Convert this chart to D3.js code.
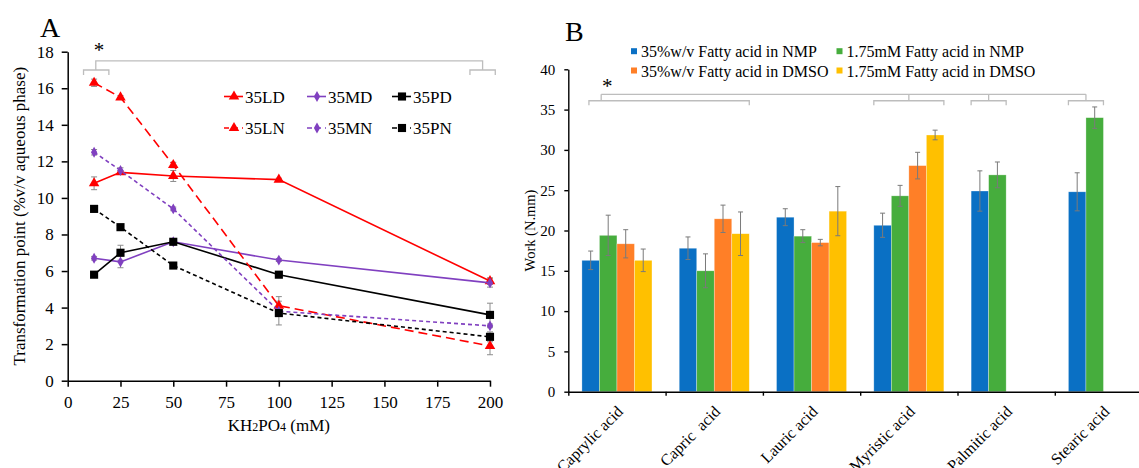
<!DOCTYPE html>
<html>
<head>
<meta charset="utf-8">
<script src="https://cdn.jsdelivr.net/npm/d3@7"></script>
<style>
  body { margin: 0; background: #fff; }
  svg text { font-family: "Liberation Serif", "Times New Roman", serif; }
</style>
</head>
<body>
<div id="chart"></div>
<script>
// ---------------- Panel A data ----------------
var concA = [12.5, 25, 50, 100, 200];
var ld = [10.8, 11.4, 11.2, 11.0, 5.45];
var ldErr = [0.35, 0.1, 0.3, 0.08, 0.18];
var ln = [16.3, 15.5, 11.8, 4.1, 1.9];
var lnErr = [0.2, 0.1, 0.15, 0.5, 0.48];
var md = [6.7, 6.5, 7.6, 6.6, 5.35];
var mdErr = [0.1, 0.32, 0.1, 0.08, 0.23];
var mn = [12.5, 11.5, 9.4, 3.8, 3.0];
var mnErr = [0.15, 0.15, 0.1, 0.1, 0.1];
var pd = [5.8, 7.0, 7.6, 5.8, 3.6];
var pdErr = [0.15, 0.41, 0.1, 0.15, 0.64];
var pn = [9.4, 8.4, 6.3, 3.7, 2.4];
var pnErr = [0.1, 0.1, 0.1, 0.65, 0.27];
var xTicksA = [0, 25, 50, 75, 100, 125, 150, 175, 200];
var yTicksA = [0, 2, 4, 6, 8, 10, 12, 14, 16, 18];

// ---------------- Panel B data ----------------
var acids = ["Caprylic acid", "Capric  acid", "Lauric acid", "Myristic acid", "Palmitic acid", "Stearic acid"];
var seriesB = ["35%w/v Fatty acid in NMP", "1.75mM Fatty acid in NMP", "35%w/v Fatty acid in DMSO", "1.75mM Fatty acid in DMSO"];
var nmp35 = [16.3, 17.8, 21.65, 20.65, 24.9, 24.8];
var nmp35Err = [1.15, 1.4, 1.05, 1.5, 2.5, 2.36];
var nmp175 = [19.4, 15.0, 19.3, 24.3, 26.9, 34.0];
var nmp175Err = [2.5, 2.1, 0.8, 1.3, 1.6, 1.33];
var dmso35 = [18.35, 21.45, 18.5, 28.05, null, null];
var dmso35Err = [1.75, 1.7, 0.4, 1.65, null, null];
var dmso175 = [16.3, 19.6, 22.4, 31.85, null, null];
var dmso175Err = [1.4, 2.7, 3.05, 0.6, null, null];
var yTicksB = [0, 5, 10, 15, 20, 25, 30, 35, 40];
// significance groups (categories under each bracket)
var bracketsB = [["Caprylic acid", "Capric  acid"], ["Myristic acid"], ["Palmitic acid"], ["Stearic acid"]];

var font = '"Liberation Serif", "Times New Roman", serif';

var svg = d3.select("#chart").append("svg")
  .attr("width", 1139)
  .attr("height", 468);
svg.append("rect").attr("width", 1139).attr("height", 468).attr("fill", "#fff");

//==================== PANEL A ====================
var aLeft = 67.7, aTop = 51.7, aW = 422.3, aH = 329;
var xA = d3.scaleLinear().domain([0, 200]).range([aLeft, aLeft + aW]);
var yA = d3.scaleLinear().domain([0, 18]).range([aTop + aH, aTop]);

var xAxisA = svg.append("g")
  .attr("transform", `translate(0, ${aTop + aH})`)
  .call(d3.axisBottom(xA).tickValues(xTicksA).tickSize(6).tickPadding(9).tickSizeOuter(0));
var yAxisA = svg.append("g")
  .attr("transform", `translate(${aLeft}, 0)`)
  .call(d3.axisLeft(yA).tickValues(yTicksA).tickSize(6).tickPadding(8).tickSizeOuter(0));
[xAxisA, yAxisA].forEach(function(g) {
  g.attr("font-family", font).attr("font-size", 17);
  g.selectAll("path, line").attr("stroke", "#000").attr("stroke-width", 1.5);
  g.selectAll("text").attr("fill", "#000");
});

// axis titles
var xt = svg.append("text")
  .attr("x", (xA(0) + xA(200)) / 2)
  .attr("y", 431)
  .attr("text-anchor", "middle")
  .attr("font-size", 17);
xt.append("tspan").text("KH");
xt.append("tspan").attr("font-size", 12).text("2");
xt.append("tspan").text("PO");
xt.append("tspan").attr("font-size", 12).text("4");
xt.append("tspan").text(" (mM)");

svg.append("text")
  .attr("transform", `translate(25, ${(aTop + aTop + aH) / 2}) rotate(-90)`)
  .attr("text-anchor", "middle")
  .attr("font-size", 17)
  .text("Transformation point (%v/v aqueous phase)");

svg.append("text").attr("x", 40).attr("y", 37).attr("font-size", 28).text("A");

// series for panel A
var purple = "#8040c0";
var linesA = [
  {name: "35LD", v: ld, e: ldErr, color: "red", dash: null, sym: d3.symbolTriangle, size: 48},
  {name: "35MD", v: md, e: mdErr, color: purple, dash: null, sym: d3.symbolDiamond, size: 34},
  {name: "35PD", v: pd, e: pdErr, color: "#000", dash: null, sym: d3.symbolSquare, size: 66},
  {name: "35LN", v: ln, e: lnErr, color: "red", dash: "9,5", sym: d3.symbolTriangle, size: 48},
  {name: "35MN", v: mn, e: mnErr, color: purple, dash: "4,3", sym: d3.symbolDiamond, size: 34},
  {name: "35PN", v: pn, e: pnErr, color: "#000", dash: "4,3", sym: d3.symbolSquare, size: 66}
];

var lineGen = d3.line()
  .x((d, i) => xA(concA[i]))
  .y(d => yA(d));

// error bars first (gray)
var errG = svg.append("g").attr("stroke", "#8c8c8c").attr("stroke-width", 1);
linesA.forEach(function(s) {
  s.v.forEach(function(val, i) {
    var x = xA(concA[i]), y1 = yA(val + s.e[i]), y2 = yA(val - s.e[i]);
    errG.append("line").attr("x1", x).attr("x2", x).attr("y1", y1).attr("y2", y2);
    errG.append("line").attr("x1", x - 3).attr("x2", x + 3).attr("y1", y1).attr("y2", y1);
    errG.append("line").attr("x1", x - 3).attr("x2", x + 3).attr("y1", y2).attr("y2", y2);
  });
});

linesA.forEach(function(s) {
  svg.append("path")
    .datum(s.v)
    .attr("d", lineGen)
    .attr("fill", "none")
    .attr("stroke", s.color)
    .attr("stroke-width", 1.6)
    .attr("stroke-dasharray", s.dash);
  svg.selectAll(null)
    .data(s.v)
    .enter()
    .append("path")
    .attr("d", d3.symbol().type(s.sym).size(s.size))
    .attr("transform", (d, i) => `translate(${xA(concA[i])}, ${yA(d)})`)
    .attr("fill", s.color);
});

// legend A
var legCols = [224, 307, 392];
var legRows = [96.5, 128];
linesA.forEach(function(s, i) {
  var lx = legCols[i % 3], ly = legRows[Math.floor(i / 3)];
  svg.append("line")
    .attr("x1", lx).attr("x2", lx + 19)
    .attr("y1", ly).attr("y2", ly)
    .attr("stroke", s.color).attr("stroke-width", 1.6)
    .attr("stroke-dasharray", s.dash ? "5,4" : null);
  svg.append("path")
    .attr("d", d3.symbol().type(s.sym).size(s.size))
    .attr("transform", `translate(${lx + 10}, ${ly})`)
    .attr("fill", s.color);
  svg.append("text")
    .attr("x", lx + 21).attr("y", ly + 6)
    .attr("font-size", 17)
    .text(s.name);
});

// significance bracket A
var brA = svg.append("g").attr("stroke", "#bdbdbd").attr("stroke-width", 1.3).attr("fill", "none");
function bracket(g, x1, x2, y, yEnd) {
  g.append("path").attr("d", `M${x1},${yEnd}V${y}H${x2}V${yEnd}`);
}
bracket(brA, xA(7.5), xA(19.5), yA(17), yA(16.72));
bracket(brA, xA(190.5), xA(202.5), yA(17), yA(16.72));
brA.append("path").attr("d", `M${xA(13.3)},${yA(17)}V${yA(17.5)}H${xA(196.5)}V${yA(17)}`);
svg.append("text").attr("x", xA(14.8)).attr("y", 57).attr("text-anchor", "middle")
  .attr("font-size", 21).text("*");

//==================== PANEL B ====================
var bLeft = 568.3, bTop = 69.3, bH = 322.4, bandW = 97.3;
var x0 = d3.scaleBand().domain(acids).range([bLeft, bLeft + acids.length * bandW]).padding(0);
var x1 = d3.scaleBand().domain(seriesB).range([bandW * 0.14, bandW * 0.86]).padding(0);
var yB = d3.scaleLinear().domain([0, 40]).range([bTop + bH, bTop]);
var colorsB = ["#0a70c4", "#46ad3d", "#ff7f27", "#ffc000"];

var valsB = [nmp35, nmp175, dmso35, dmso175];
var errsB = [nmp35Err, nmp175Err, dmso35Err, dmso175Err];
var barData = [];
acids.forEach(function(a, ci) {
  seriesB.forEach(function(s, si) {
    if (valsB[si][ci] != null) {
      barData.push({acid: a, series: s, si: si, v: valsB[si][ci], e: errsB[si][ci]});
    }
  });
});

svg.selectAll(".bar")
  .data(barData)
  .enter()
  .append("rect")
  .attr("class", "bar")
  .attr("x", d => x0(d.acid) + x1(d.series))
  .attr("y", d => yB(d.v))
  .attr("width", x1.bandwidth())
  .attr("height", d => yB(0) - yB(d.v))
  .attr("fill", d => colorsB[d.si])
  .attr("stroke", "#ffffff")
  .attr("stroke-opacity", 0.5)
  .attr("stroke-width", 0.6);

var errB = svg.append("g").attr("stroke", "#7a7a7a").attr("stroke-width", 1);
barData.forEach(function(d) {
  var cx = x0(d.acid) + x1(d.series) + x1.bandwidth() / 2;
  var y1 = yB(d.v + d.e), y2 = yB(d.v - d.e);
  errB.append("line").attr("x1", cx).attr("x2", cx).attr("y1", y1).attr("y2", y2);
  errB.append("line").attr("x1", cx - 2.5).attr("x2", cx + 2.5).attr("y1", y1).attr("y2", y1);
  errB.append("line").attr("x1", cx - 2.5).attr("x2", cx + 2.5).attr("y1", y2).attr("y2", y2);
});

// axes B
var yAxisB = svg.append("g")
  .attr("transform", `translate(${bLeft}, 0)`)
  .call(d3.axisLeft(yB).tickValues(yTicksB).tickSize(4).tickPadding(9).tickSizeOuter(0));
var xBound = d3.scaleLinear().domain([0, acids.length]).range([bLeft, bLeft + acids.length * bandW]);
var xAxisB = svg.append("g")
  .attr("transform", `translate(0, ${yB(0)})`)
  .call(d3.axisBottom(xBound).tickValues(d3.range(0, acids.length + 1)).tickFormat("").tickSize(4).tickSizeOuter(0));
[xAxisB, yAxisB].forEach(function(g) {
  g.attr("font-family", font).attr("font-size", 15);
  g.selectAll("path, line").attr("stroke", "#000").attr("stroke-width", 1.4);
  g.selectAll("text").attr("fill", "#000");
});

svg.selectAll(".xlab")
  .data(acids)
  .enter()
  .append("text")
  .attr("class", "xlab")
  .attr("transform", d => `translate(${x0(d) + x0.bandwidth() / 2 + 7}, ${yB(0) + 21}) rotate(-45)`)
  .attr("text-anchor", "end")
  .attr("font-size", 16)
  .attr("xml:space", "preserve")
  .style("white-space", "pre")
  .text(d => d);

svg.append("text")
  .attr("transform", `translate(535, ${(bTop + bTop + bH) / 2}) rotate(-90)`)
  .attr("text-anchor", "middle")
  .attr("font-size", 14.5)
  .text("Work (N.mm)");

svg.append("text").attr("x", 565).attr("y", 41).attr("font-size", 28).text("B");

// legend B
var legBx = [631, 836.5], legBy = [51.7, 71];
seriesB.forEach(function(s, i) {
  var lx = legBx[i % 2], ly = legBy[Math.floor(i / 2)];
  svg.append("rect").attr("x", lx).attr("y", ly - 3.5).attr("width", 6).attr("height", 6)
    .attr("fill", colorsB[i]);
  svg.append("text").attr("x", lx + 10).attr("y", ly + 5.5).attr("font-size", 16).text(s);
});

// significance brackets B
var brB = svg.append("g").attr("stroke", "#bdbdbd").attr("stroke-width", 1.3).attr("fill", "none");
var bw = x1.bandwidth();
var stems = [];
bracketsB.forEach(function(grp, gi) {
  var bars = barData.filter(d => grp.indexOf(d.acid) >= 0);
  var left = d3.min(bars, d => x0(d.acid) + x1(d.series));
  var right = d3.max(bars, d => x0(d.acid) + x1(d.series) + bw);
  if (gi === 0) left += bw * 0.4;
  bracket(brB, left, right, yB(36.1), yB(35.55));
  stems.push(gi === 0 ? left + bw * 0.7 : (left + right) / 2);
});
stems.forEach(function(sx) {
  brB.append("line").attr("x1", sx).attr("x2", sx).attr("y1", yB(36.1)).attr("y2", yB(36.9));
});
brB.append("line").attr("x1", stems[0]).attr("x2", stems[stems.length - 1])
  .attr("y1", yB(36.9)).attr("y2", yB(36.9));
svg.append("text").attr("x", stems[0] + 6).attr("y", 93).attr("text-anchor", "middle")
  .attr("font-size", 21).text("*");
</script>
</body>
</html>
